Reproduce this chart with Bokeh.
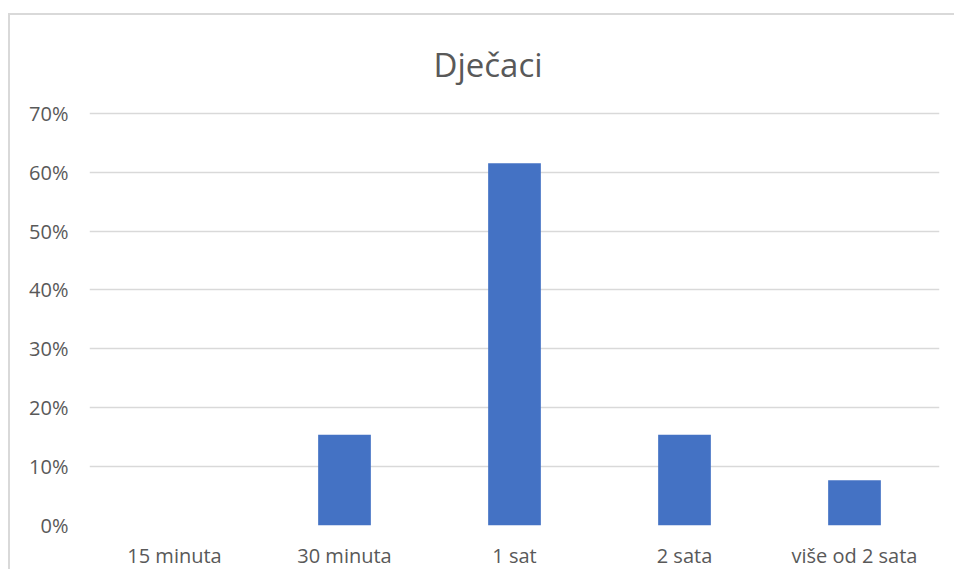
from bokeh.plotting import figure
from bokeh.models import FixedTicker, NumeralTickFormatter, ColumnDataSource, Range1d
from bokeh.embed import file_html
from bokeh.resources import INLINE

title_text = "Dječaci"
categories = ["15 minuta", "30 minuta", "1 sat", "2 sata", "više od 2 sata"]
shares = [0.0, 0.154, 0.615, 0.154, 0.077]
y_ticks = [0.0, 0.1, 0.2, 0.3, 0.4, 0.5, 0.6, 0.7]

src = ColumnDataSource(dict(cat=categories, val=shares))

p = figure(x_range=categories, y_range=Range1d(0, 0.703), width=946, height=556,
           output_backend="svg", toolbar_location=None, title=title_text,
           min_border_left=79, min_border_right=17, min_border_bottom=44,
           min_border_top=95, outline_line_color=None)
p.margin = (13, 0, 0, 8)
p.styles = {"border-left": "2px solid #d9d9d9", "border-top": "2px solid #d9d9d9",
            "border-right": "0", "border-bottom": "0"}

p.vbar(x="cat", top="val", width=0.31, source=src, fill_color="#4472c4",
       line_color=None)

p.title.text_font = "Open Sans"
p.title.text_font_size = "33px"
p.title.text_font_style = "normal"
p.title.text_color = "#595959"
p.title.align = "left"
p.title.offset = 344
p.title.standoff = 49

p.yaxis.ticker = FixedTicker(ticks=y_ticks)
p.yaxis.formatter = NumeralTickFormatter(format="0%")
for ax in (p.xaxis[0], p.yaxis[0]):
    ax.axis_line_color = None
    ax.major_tick_line_color = None
    ax.minor_tick_line_color = None
    ax.major_label_text_font = "Open Sans"
    ax.major_label_text_font_size = "20px"
    ax.major_label_text_color = "#595959"
p.yaxis.major_label_standoff = 15
p.xaxis.major_label_standoff = 10

p.xgrid.grid_line_color = None
p.ygrid.grid_line_color = "#d9d9d9"
p.ygrid.grid_line_width = 1.5

open("out.html", "w").write(file_html(p, INLINE))
